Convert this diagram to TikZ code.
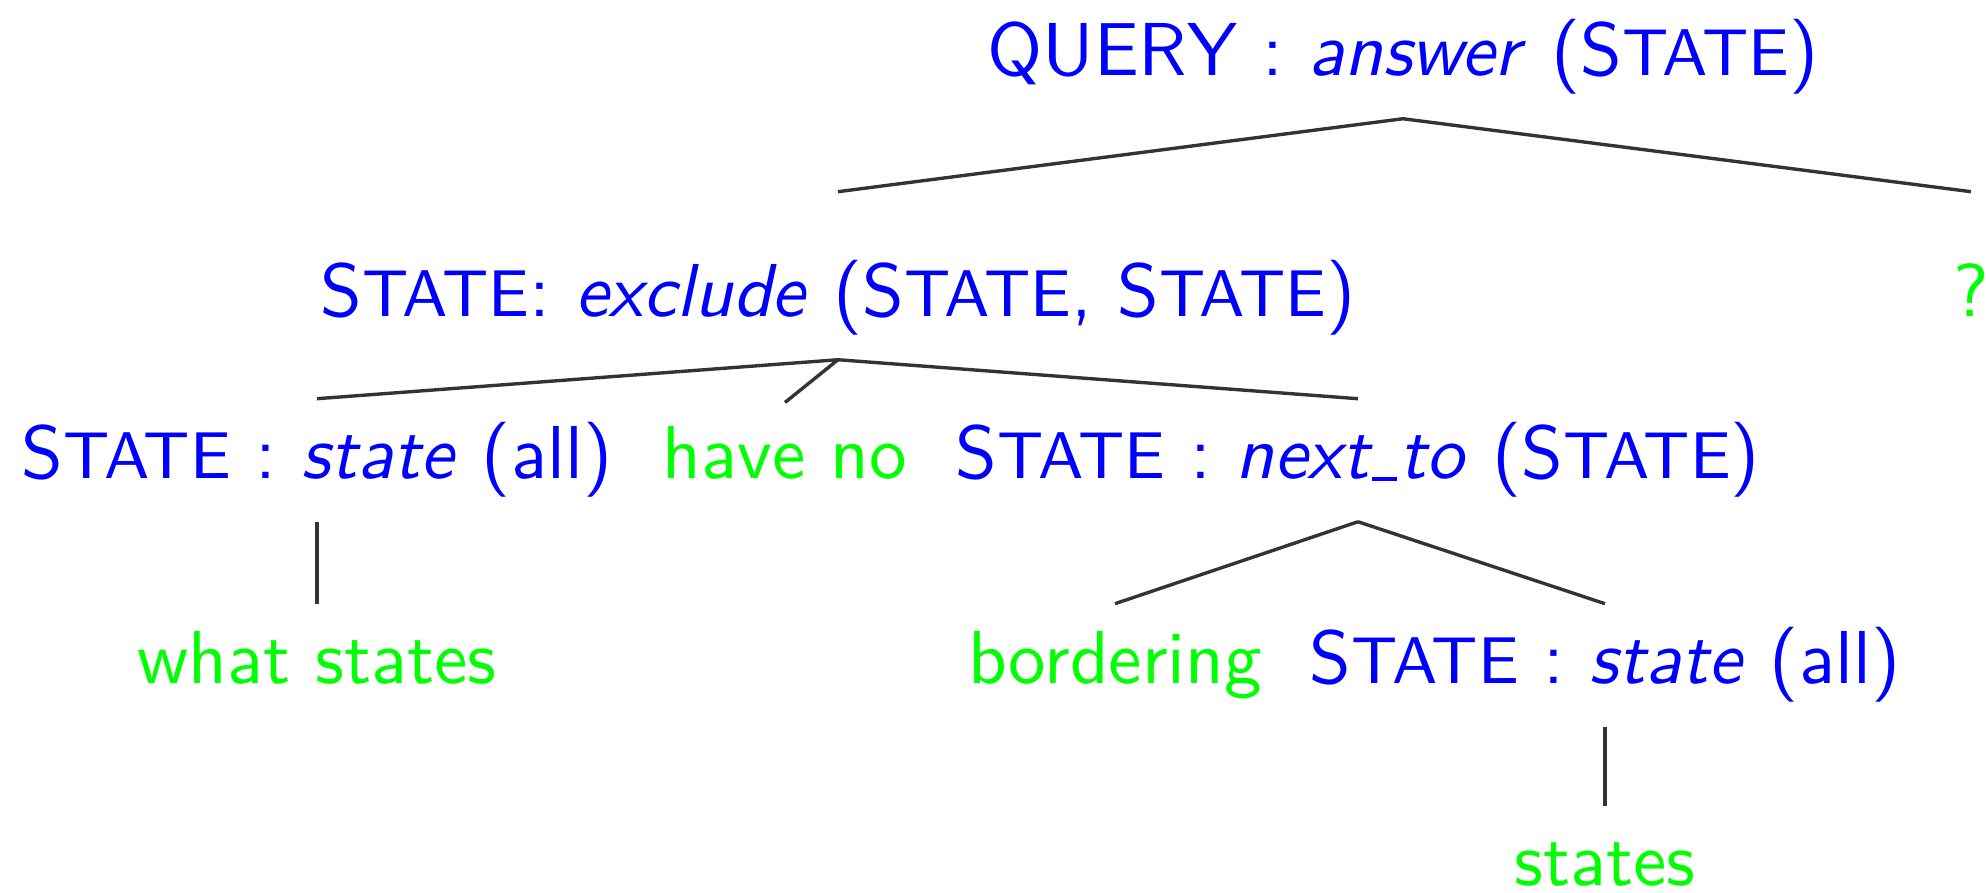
\documentclass[tikz,border=0pt]{standalone}
\usepackage{xcolor}
\newcommand{\State}{S{\fontsize{8.8pt}{10pt}\selectfont TATE}}
\newcommand{\uscore}{\kern0.3pt\rule[-0.3pt]{3.4pt}{0.6pt}\kern0.3pt}
\tikzset{
  cat/.style={text=blue,anchor=base,text height=7.5pt,text depth=2.5pt,inner ysep=3pt,font=\sffamily},
  word/.style={cat,text=green},
  branch/.style={draw=black!80,line width=0.45pt}
}
\begin{document}
\begin{tikzpicture}[x=0.1333pt,y=-0.1333pt]
\useasboundingbox (0,0) rectangle (1986,893);
\node[cat] (t0) at (1403,76) {QUERY : \textit{answer} (\State)};
\node[cat] (t1) at (838,317) {\State: \textit{exclude} (\State, \State)};
\node[word] (t2) at (1971,317) {?};
\node[cat] (t3) at (317,479) {\State\ : \textit{state} (all)};
\node[word] (t4) at (785,479) {have no};
\node[cat] (t5) at (1358,479) {\State\ : \textit{next\uscore to} (\State)};
\node[word] (t6) at (317,684) {what states};
\node[word] (t7) at (1115,684) {bordering};
\node[cat] (t8) at (1605,684) {\State\ : \textit{state} (all)};
\node[word] (t9) at (1605,886) {states};
\draw[branch] (t0.south) -- ([yshift=6pt]t1.north);
\draw[branch] (t0.south) -- ([yshift=6pt]t2.north);
\draw[branch] (t1.south) -- (t3.north);
\draw[branch] (t1.south) -- ([yshift=-0.5pt]t4.north);
\draw[branch] (t1.south) -- (t5.north);
\draw[branch] (t3.south) -- (t6.north);
\draw[branch] (t5.south) -- (t7.north);
\draw[branch] (t5.south) -- (t8.north);
\draw[branch] (t8.south) -- (t9.north);
\end{tikzpicture}
\end{document}
